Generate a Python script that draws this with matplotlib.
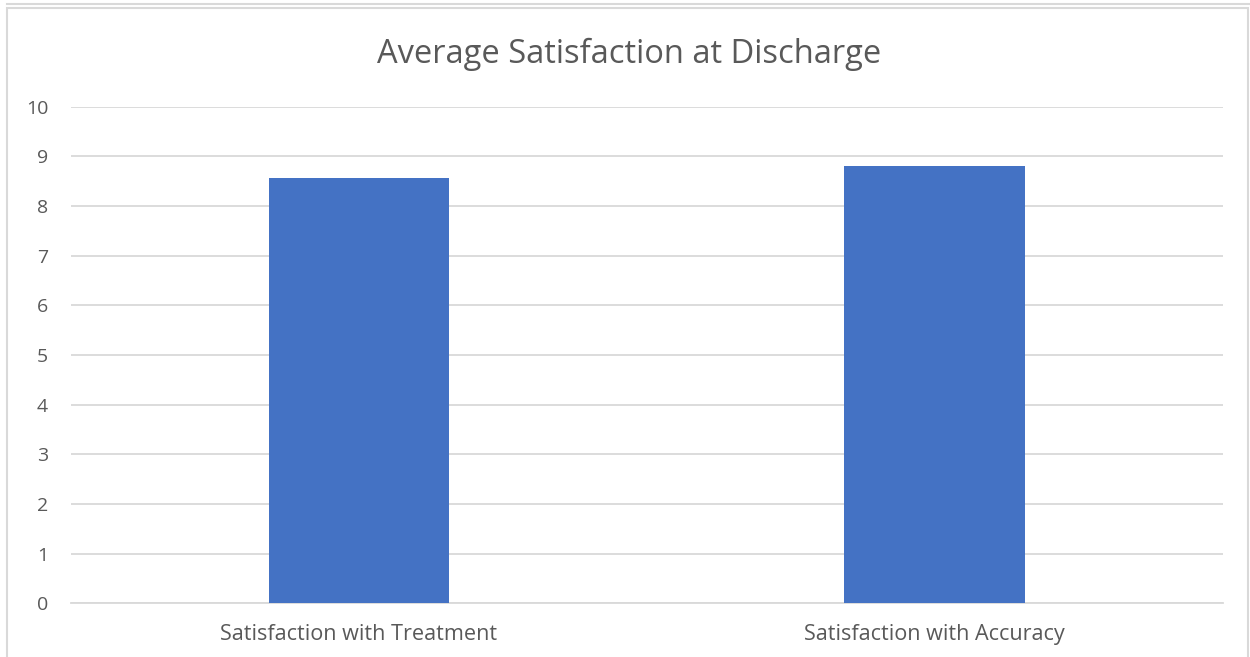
import matplotlib.pyplot as plt
from matplotlib.patches import Rectangle
from matplotlib.lines import Line2D

categories = ["Satisfaction with Treatment", "Satisfaction with Accuracy"]
values = [8.56, 8.81]
yticks = [0, 1, 2, 3, 4, 5, 6, 7, 8, 9, 10]

plt.rcParams['font.family'] = ['Open Sans', 'DejaVu Sans']

fig = plt.figure(figsize=(12.5, 6.57), dpi=100)
W, H = 1250, 657

# chart border (Excel-like frame)
fig.patches.append(Rectangle((7 / W, -0.01), (1248 - 7) / W, 1 - 8 / H + 0.01,
                             transform=fig.transFigure, fill=False,
                             edgecolor="#d9d9d9", linewidth=1.5))
fig.lines.append(Line2D([7 / W, 1], [1 - 3.5 / H, 1 - 3.5 / H],
                        transform=fig.transFigure, color="#d9d9d9", linewidth=1.5))

ax = fig.add_axes([71 / W, 1 - 603.3 / H, (1222.7 - 71) / W, (603.3 - 106.7) / H])
x = range(len(categories))
ax.bar(x, values, width=0.314, color="#4472c4", zorder=3)
ax.set_xlim(-0.5, 1.5)
ax.set_ylim(0, 10)
ax.set_yticks(yticks)
ax.set_xticks(list(x))
ax.set_xticklabels(categories)
ax.grid(axis="y", color="#d9d9d9", linewidth=1.3, zorder=0)
for s in ["top", "right", "left"]:
    ax.spines[s].set_visible(False)
ax.spines["bottom"].set_color("#d9d9d9")
ax.spines["bottom"].set_linewidth(1.3)
ax.tick_params(axis="both", length=0, colors="#595959")
ax.tick_params(axis="y", pad=16.5, labelsize=14)
ax.tick_params(axis="x", pad=15, labelsize=15.6)

fig.text(629 / W, 1 - 54 / H, "Average Satisfaction at Discharge",
         ha="center", va="center", fontsize=23.5, color="#595959")

fig.savefig("out.png", dpi=100)
